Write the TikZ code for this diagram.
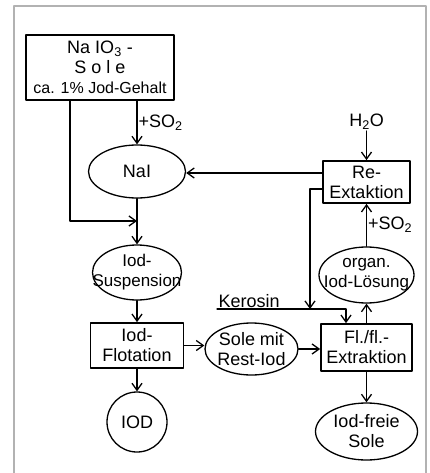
\documentclass[tikz,border=0pt]{standalone}
\usepackage{fontspec}
\setmainfont{Liberation Sans}
\usepackage{tikz}
\usetikzlibrary{arrows.meta}
\usetikzlibrary{shapes.geometric}
\usetikzlibrary{calc}
\definecolor{FrameGray}{RGB}{178,178,178}
\newcommand{\lettering}{\fontsize{18}{20}\selectfont}
\newcommand{\smalllettering}{\fontsize{17}{20}\selectfont}

\begin{document}
\begin{tikzpicture}[line cap=round,line join=round,>={Straight Barb[length=7pt,width=10pt]},x=1pt,y=-1pt,
  stepbox/.style={draw,rectangle,line width=1.7pt,inner sep=0pt,align=center,font=\lettering},
  oval/.style={draw,ellipse,line width=1.3pt,inner sep=0pt},
  txt/.style={font=\lettering,align=center,inner sep=1pt},
  flow/.style={->,line width=1.3pt}]
\useasboundingbox (0,0) rectangle (429,473);
\draw [line width=2pt,color=FrameGray] (13.5,473) -- (13.5,6.5) -- (425.5,6.5) -- (425.5,473);
% left column
\node[stepbox,minimum width=148,minimum height=65] (sole) at (100,67.5) {Na IO\textsubscript{3} -\\S o l e\\{\fontsize{16}{20}\selectfont ca. 1\% Jod-Gehalt}};
\node[oval,minimum width=97,minimum height=53,label={[txt]center:NaI}] (nai) at (137,171.5) {};
\node[oval,minimum width=89,minimum height=55,label={[txt,font=\smalllettering]center:{Iod-\\Suspension}}] (susp) at (137,272.5) {};
\node[stepbox,minimum width=93,minimum height=45] (flot) at (137,345.5) {Iod-\\Flotation};
\node[oval,circle,minimum size=60,label={[txt]center:IOD}] (iod) at (137,422) {};
% middle and right column
\node[oval,minimum width=93,minimum height=52,label={[txt]center:{Sole mit\\Rest-Iod}}] (rest) at (251.5,349) {};
\node[stepbox,minimum width=91,minimum height=47] (flx) at (366.5,347.5) {Fl./fl.-\\Extraktion};
\node[oval,minimum width=102,minimum height=57,label={[txt]center:{Iod-freie\\Sole}}] (free) at (366.5,431.5) {};
\node[oval,minimum width=95,minimum height=56,label={[txt,font=\smalllettering]center:{organ.\\Iod-L\"osung}}] (org) at (366.5,275) {};
\node[stepbox,minimum width=87,minimum height=42] (rex) at (366.5,182) {Re-\\Extaktion};
\node[txt] (water) at (366.5,122) {H\textsubscript{2}O};
\coordinate (turn) at (70,221);
\coordinate (drop) at (310,309);
\coordinate (kero) at (217,309);
\coordinate (keroturn) at (346,309);
% connectors
\draw[flow] (sole.south -| nai.north) -- node[right,txt]{+SO\textsubscript{2}} (nai.north);
\draw[flow] (sole.south -| turn) -- (turn) -- (turn -| nai);
\draw[flow] (nai) -- (susp);
\draw[flow] (susp) -- (flot);
\draw[flow] (flot) -- (iod);
\draw[flow] (flot.east) -- (flot.east -| rest.west);
\draw[flow] (rest.east) -- (rest.east -| flx.west);
\draw[flow] (flx) -- (free);
\draw[flow] (flx) -- (org);
\draw[flow] (org) -- node[right,txt]{+SO\textsubscript{2}} (rex);
\draw[flow] (water) -- (rex);
\draw[flow] ([yshift=9pt]rex.west) -- ([yshift=9pt]rex.west -| nai.east);
\draw[flow] ([yshift=-7pt]rex.west) -| (drop);
\draw[flow] (kero) node[above right,txt]{Kerosin} -- (keroturn) -- (keroturn |- flx.north);
\end{tikzpicture}
\end{document}
